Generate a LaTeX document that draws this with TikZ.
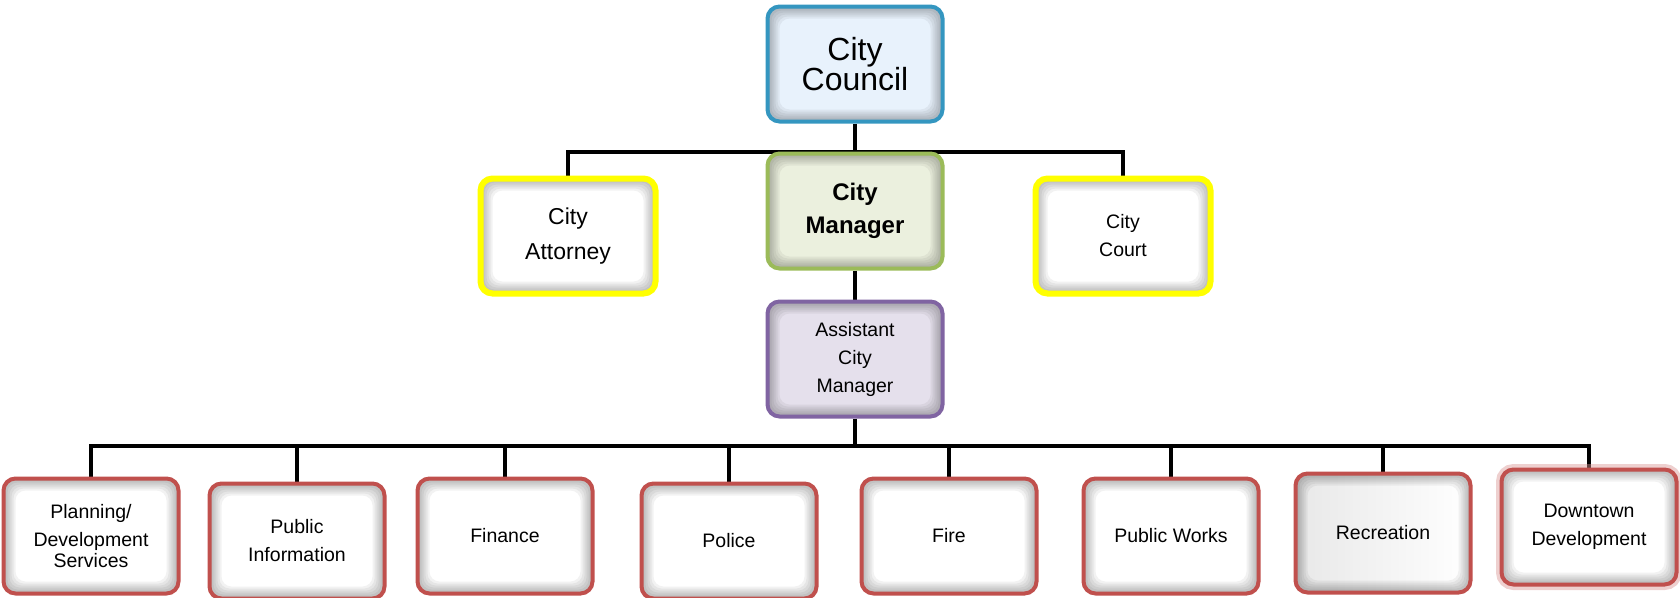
\documentclass[tikz,border=0pt]{standalone}
\usepackage{fontspec}
\setmainfont{Liberation Sans}
\usepackage{tikz}
\usetikzlibrary{
  backgrounds,
  positioning
}
\usepackage{xcolor}
\definecolor{councilblue}{RGB}{52,150,192}
\definecolor{councilfill}{RGB}{232,242,252}
\definecolor{managergreen}{RGB}{155,187,89}
\definecolor{managerfill}{RGB}{235,240,222}
\definecolor{assistpurple}{RGB}{128,100,162}
\definecolor{assistfill}{RGB}{229,224,236}
\definecolor{deptred}{RGB}{192,80,77}
\definecolor{legalyellow}{RGB}{255,255,0}
\tikzset{every picture/.style={line width=0.75pt}}
\tikzset{
  orgbox/.style={draw, fill=white, rounded corners=12pt, line width=4pt,
    minimum width=175pt, minimum height=115pt, align=center, inner sep=0pt,
    path picture={
      \foreach \d in {2,4,...,12}
        \fill[black, opacity=0.05, even odd rule, rounded corners=10pt]
          (path picture bounding box.south west) rectangle (path picture bounding box.north east)
          ([shift={(\d pt,\d pt)}]path picture bounding box.south west)
          rectangle ([shift={(-\d pt,-\d pt)}]path picture bounding box.north east);
    }},
  legalbox/.style={orgbox, draw=legalyellow, line width=6pt},
  deptbox/.style={orgbox, draw=deptred, font=\fontsize{19.5}{28}\selectfont},
  link/.style={draw, line width=4.5pt}
}

\begin{document}
\begin{tikzpicture}[x=1pt, y=-1pt]
\useasboundingbox (0,0) rectangle (1680,597);

% Council, manager and the two offices beside it
\node[orgbox, draw=councilblue, fill=councilfill, font=\fontsize{32}{28}\selectfont]
  (council) at (855,64) {City\\Council};
\node[orgbox, draw=managergreen, fill=managerfill, font=\fontsize{24}{33}\selectfont\bfseries]
  (manager) at (855,211) {City\\Manager};
\node[legalbox, font=\fontsize{23}{35}\selectfont] (attorney) at (568,236) {City\\Attorney};
\node[legalbox, font=\fontsize{19.5}{28}\selectfont] (court) at (1123,236) {City\\Court};

% Assistant city manager
\node[orgbox, draw=assistpurple, fill=assistfill, font=\fontsize{19.5}{28}\selectfont]
  (assistant) at (855,359) {Assistant\\City\\Manager};

% Departments
\node[deptbox] (planning) at (91,536) {Planning/\\Development\\[-7pt]Services};
\node[deptbox] (pubinfo) at (297,541) {Public\\Information};
\node[deptbox] (finance) at (505,536) {Finance};
\node[deptbox] (police) at (729,541) {Police};
\node[deptbox] (fire) at (949,536) {Fire};
\node[deptbox] (pubworks) at (1171,536) {Public Works};
\node[deptbox, left color=gray!18, right color=white, minimum height=119pt]
  (recreation) at (1383,533) {Recreation};
\node[deptbox, preaction={draw=deptred!60!white, opacity=0.45, line width=11pt}]
  (downtown) at (1589,527) {Downtown\\Development};

% Connectors
\coordinate (topbus) at (855,152);
\coordinate (lowbus) at (855,446);
\begin{scope}[on background layer]
\draw[link] (council) -- (manager);
\draw[link] (attorney.north) |- (topbus) -| (court.north);
\draw[link] (manager) -- (assistant);
\draw[link] (assistant) -- (lowbus);
\foreach \dept in {planning, pubinfo, finance, police, fire, pubworks, recreation, downtown}
  \draw[link] (lowbus) -| (\dept.north);
\end{scope}
\end{tikzpicture}
\end{document}
